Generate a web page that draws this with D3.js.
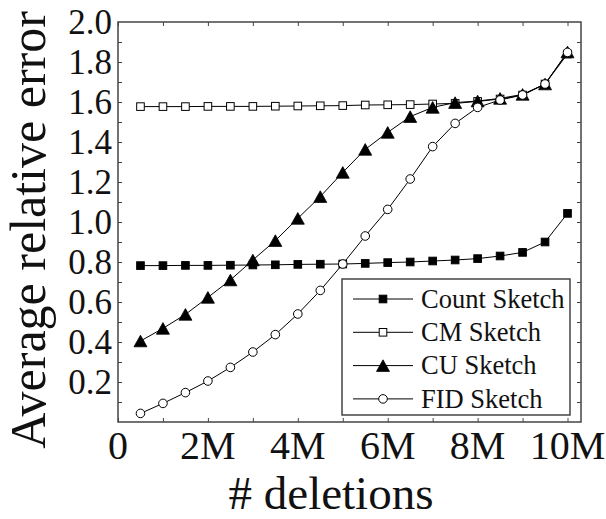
<!DOCTYPE html>
<html><head><meta charset="utf-8">
<script src="https://cdn.jsdelivr.net/npm/d3@7"></script>
</head><body style="margin:0;background:#fff">
<svg id="c" width="606" height="519" style="display:block"></svg>
<script>
const deletions = [0.5,1,1.5,2,2.5,3,3.5,4,4.5,5,5.5,6,6.5,7,7.5,8,8.5,9,9.5,10].map(d=>d*1e6);
const countSketch = [0.782,0.782,0.783,0.783,0.784,0.785,0.786,0.788,0.789,0.790,0.793,0.797,0.800,0.805,0.810,0.817,0.830,0.848,0.900,1.043];
const cmSketch = [1.577,1.577,1.577,1.578,1.578,1.578,1.579,1.580,1.581,1.582,1.585,1.586,1.587,1.590,1.593,1.603,1.615,1.635,1.690,1.840];
const cuSketch = [0.405,0.468,0.538,0.623,0.710,0.810,0.907,1.018,1.127,1.248,1.363,1.448,1.527,1.573,1.597,1.605,1.618,1.638,1.690,1.850];
const fidSketch = [0.043,0.093,0.147,0.205,0.273,0.350,0.437,0.540,0.658,0.790,0.930,1.063,1.215,1.377,1.493,1.573,1.610,1.635,1.690,1.848];
const seriesNames = ["Count Sketch","CM Sketch","CU Sketch","FID Sketch"];
const xTickValues = [0,2e6,4e6,6e6,8e6,10e6];
const xTickLabels = ["0","2M","4M","6M","8M","10M"];
const yTickValues = [0.2,0.4,0.6,0.8,1.0,1.2,1.4,1.6,1.8,2.0];
const xLabel = "# deletions", yLabel = "Average relative error";

const FONT = '"Liberation Serif","Times New Roman",Times,serif';
const svg = d3.select("#c");
const L=118, R=581, T=22, B=422;
const x = d3.scaleLinear().domain([0,10.3e6]).range([L,R]);
const y = d3.scaleLinear().domain([0,2]).range([B,T]);
const axisColor = "#444";

const series = [
  {name:seriesNames[0], vals:countSketch, sym:"square", fill:"#000"},
  {name:seriesNames[1], vals:cmSketch, sym:"square", fill:"#fff"},
  {name:seriesNames[2], vals:cuSketch, sym:"triangle", fill:"#000"},
  {name:seriesNames[3], vals:fidSketch, sym:"circle", fill:"#fff"}
];

function drawMarker(g, sym, fill, cx, cy){
  if(sym==="square"){
    g.append("rect").attr("x",cx-3.8).attr("y",cy-3.8).attr("width",7.6).attr("height",7.6)
      .attr("fill",fill).attr("stroke","#000").attr("stroke-width",1);
  } else if(sym==="triangle"){
    const w=6.5,h=5.8;
    g.append("path").attr("d",`M${cx},${cy-h}L${cx+w},${cy+h}L${cx-w},${cy+h}Z`)
      .attr("fill",fill).attr("stroke","#000").attr("stroke-width",0.8);
  } else {
    g.append("circle").attr("cx",cx).attr("cy",cy).attr("r",4.3)
      .attr("fill",fill).attr("stroke","#000").attr("stroke-width",1);
  }
}

// axes
const xMinor = d3.range(0,11).map(d=>d*1e6);
const yMinor = d3.range(1,20).map(d=>d/10);
const gx = svg.append("g").attr("transform",`translate(0,${B})`)
  .call(d3.axisBottom(x).tickValues(xMinor).tickSize(-4).tickFormat(""));
const gxt = svg.append("g").attr("transform",`translate(0,${T})`)
  .call(d3.axisTop(x).tickValues(xMinor).tickSize(-4).tickFormat(""));
const gy = svg.append("g").attr("transform",`translate(${L},0)`)
  .call(d3.axisLeft(y).tickValues(yMinor).tickSize(-4).tickFormat(""));
const gyr = svg.append("g").attr("transform",`translate(${R},0)`)
  .call(d3.axisRight(y).tickValues(yMinor).tickSize(-4).tickFormat(""));
[gx,gxt,gy,gyr].forEach(g=>{g.select(".domain").remove();g.selectAll("line").attr("stroke",axisColor).attr("stroke-width",1);});
svg.append("rect").attr("x",L).attr("y",T).attr("width",R-L).attr("height",B-T)
  .attr("fill","none").attr("stroke",axisColor).attr("stroke-width",1.5);

// tick labels
svg.append("g").selectAll("text").data(xTickValues).join("text")
  .attr("x",d=>x(d)).attr("y",459).attr("text-anchor","middle")
  .attr("font-size",40).style("font-family",FONT).attr("fill","#111").text((d,i)=>xTickLabels[i]);
svg.append("g").selectAll("text").data(yTickValues).join("text")
  .attr("x",112).attr("y",d=>y(d)).attr("dy","0.34em").attr("text-anchor","end")
  .attr("font-size",35).style("font-family",FONT).attr("fill","#111").text(d=>d.toFixed(1));

svg.append("text").attr("x",331).attr("y",509).attr("text-anchor","middle").attr("font-size",47)
  .style("font-family",FONT).attr("fill","#111").text(xLabel);
svg.append("text").attr("transform",`translate(45,230) rotate(-90)`).attr("text-anchor","middle").attr("font-size",50)
  .style("font-family",FONT).attr("fill","#111").text(yLabel);

// series
const line = d3.line().x((d,i)=>x(deletions[i])).y(d=>y(d));
series.forEach(s=>{
  svg.append("path").attr("d",line(s.vals)).attr("fill","none").attr("stroke","#000").attr("stroke-width",1);
});
series.forEach(s=>{
  const g = svg.append("g");
  s.vals.forEach((v,i)=>drawMarker(g,s.sym,s.fill,x(deletions[i]),y(v)));
});

// legend
const lg = svg.append("g");
lg.append("rect").attr("x",342).attr("y",279).attr("width",228).attr("height",136)
  .attr("fill","#fff").attr("stroke",axisColor).attr("stroke-width",1.5);
series.forEach((s,i)=>{
  const yy = 299 + i*33.3;
  lg.append("line").attr("x1",353).attr("x2",413).attr("y1",yy).attr("y2",yy).attr("stroke","#000").attr("stroke-width",1);
  drawMarker(lg,s.sym,s.fill,383,yy);
  lg.append("text").attr("x",421).attr("y",yy).attr("dy","0.33em").attr("font-size",26.5)
    .style("font-family",FONT).attr("fill","#111").text(s.name);
});
</script>
</body></html>
